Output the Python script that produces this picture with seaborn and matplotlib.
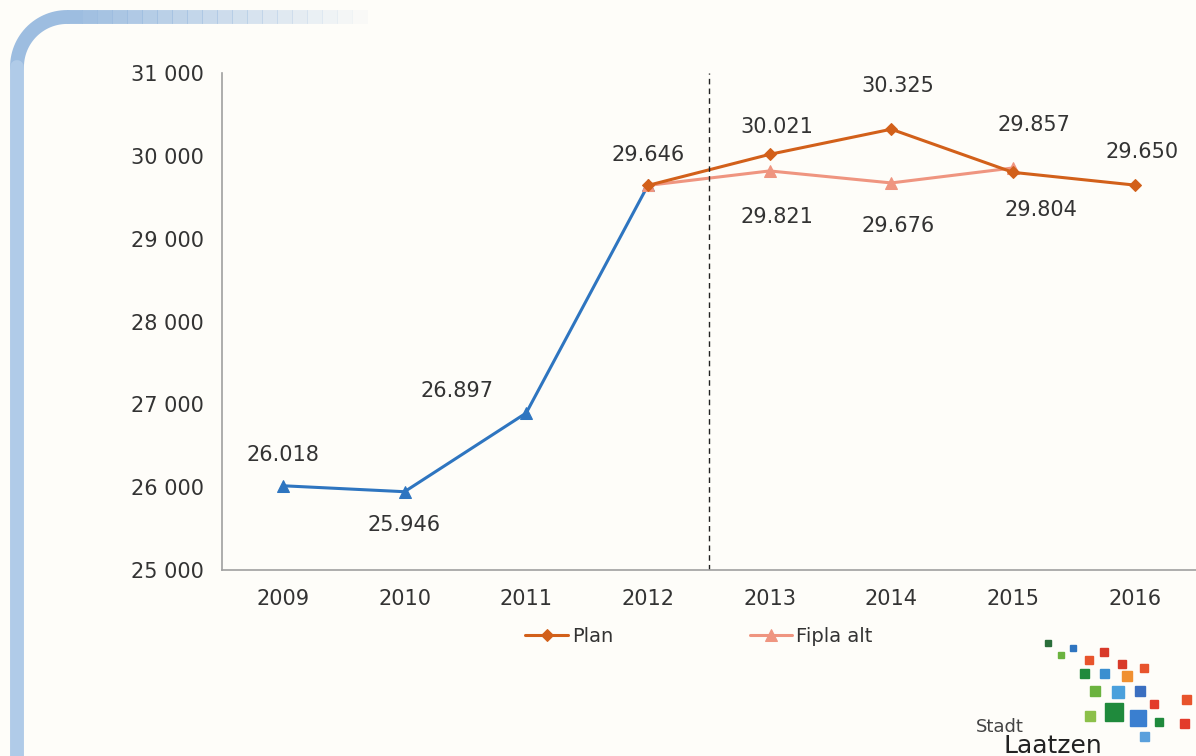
import numpy as np
import pandas as pd
import matplotlib.pyplot as plt
import seaborn as sns
from matplotlib.patches import Rectangle

years = [2009, 2010, 2011, 2012, 2013, 2014, 2015, 2016]
ist_years = [2009, 2010, 2011, 2012]
ist_vals = [26018, 25946, 26897, 29646]
plan_years = [2012, 2013, 2014, 2015, 2016]
plan_vals = [29646, 30021, 30325, 29804, 29650]
alt_years = [2012, 2013, 2014, 2015]
alt_vals = [29646, 29821, 29676, 29857]
y_ticks = [25000, 26000, 27000, 28000, 29000, 30000, 31000]

sns.set_style("white")
plt.rcParams['font.family'] = ['DejaVu Sans']

bg = '#fefdf9'
txt = '#333333'
c_ist = '#2e75c0'
c_plan = '#d2601a'
c_alt = '#ef9580'

fig = plt.figure(figsize=(11.96, 7.56), dpi=100, facecolor=bg)
ax = fig.add_axes([0.1856, 0.246, 0.814, 0.657])
ax.set_facecolor(bg)

pos = {y: i for i, y in enumerate(years)}
ist = pd.DataFrame({'x': [pos[y] for y in ist_years], 'v': ist_vals})
plan = pd.DataFrame({'x': [pos[y] for y in plan_years], 'v': plan_vals})
alt = pd.DataFrame({'x': [pos[y] for y in alt_years], 'v': alt_vals})

sns.lineplot(data=ist, x='x', y='v', ax=ax, color=c_ist, lw=2.2, marker='^',
             markersize=8, markeredgecolor=c_ist)
sns.lineplot(data=alt, x='x', y='v', ax=ax, color=c_alt, lw=2.2, marker='^',
             markersize=9, markeredgecolor=c_alt, label='Fipla alt')
sns.lineplot(data=plan, x='x', y='v', ax=ax, color=c_plan, lw=2.2, marker='D',
             markersize=6.5, markeredgecolor=c_plan, label='Plan')

ax.axvline(3.5, color='#222222', lw=1, ls=(0, (4, 3)))

def fmt(v):
    return f"{v:,}".replace(',', '.')

def put(df, offsets):
    for x, v, o in zip(df['x'], df['v'], offsets):
        if o is None:
            continue
        ax.annotate(fmt(v), (x, v), xytext=o, textcoords='offset points',
                    ha='center', va='center', fontsize=15, color=txt)

# label offsets in points (dx, dy)
put(ist, [(0, 22), (0, -24), (-50, 16), (0, 22)])
put(plan, [None, (5, 20), (5, 31), (20, -27), (5, 24)])
put(alt, [None, (5, -33), (5, -31), (15, 31)])

ax.set_xlim(-0.5, 7.5)
ax.set_ylim(25000, 31000)
ax.set_xticks(range(len(years)))
ax.set_xticklabels([str(y) for y in years], fontsize=15, color=txt)
ax.set_xticks(np.arange(-0.5, 8, 1), minor=True)
ax.tick_params(axis='x', which='major', length=0, pad=14)
ax.tick_params(axis='x', which='minor', length=6, color='#a0a0a0', direction='out')
ax.set_yticks(y_ticks)
ax.set_yticklabels([f"{t:,}".replace(',', ' ') for t in y_ticks], fontsize=15, color=txt)
ax.tick_params(axis='y', length=5, color='#a0a0a0', direction='out', pad=8)
ax.set_xlabel('')
ax.set_ylabel('')
for s in ['top', 'right']:
    ax.spines[s].set_visible(False)
for s in ['left', 'bottom']:
    ax.spines[s].set_color('#a0a0a0')
    ax.spines[s].set_linewidth(1.2)

h, l = ax.get_legend_handles_labels()
order = [l.index('Plan'), l.index('Fipla alt')]
ax.legend([h[i] for i in order], [l[i] for i in order], loc='upper center',
          bbox_to_anchor=(0.49, -0.08), ncol=2, frameon=False, fontsize=14,
          columnspacing=7, handlelength=2.2, handletextpad=0.2, labelcolor=txt)

# decorative frame in the top left corner
t = np.linspace(np.pi, np.pi / 2, 30)
r = 50
cx, cy = 17 + r, 756 - 17 - r
fig.add_artist(plt.Line2D((cx + r * np.cos(t)) / 1196, (cy + r * np.sin(t)) / 756,
                          color='#9dbde0', lw=10, transform=fig.transFigure))
fig.add_artist(plt.Line2D([17 / 1196, 17 / 1196], [0, cy / 756],
                          color='#b0cbe8', lw=10, transform=fig.transFigure))
for k in range(20):
    x0 = cx + k * 15
    fig.add_artist(plt.Line2D([x0 / 1196, (x0 + 16) / 1196], [739 / 756, 739 / 756],
                              color='#9dbde0', lw=10, alpha=max(0.0, 1 - k / 20),
                              transform=fig.transFigure, solid_capstyle='butt'))

# logo
fig.text(976 / 1196, 24 / 756, 'Stadt', fontsize=13, color='#444444')
fig.text(1003 / 1196, 3 / 756, 'Laatzen', fontsize=18, color='#222222')
sq = [(1045, 110, '#2a6e3a', 6), (1058, 98, '#6bb33f', 6), (1070, 105, '#2f75c0', 6),
      (1085, 92, '#e8542c', 8), (1100, 100, '#d83a2a', 8), (1118, 88, '#d83a2a', 8),
      (1080, 78, '#1f8a3c', 9), (1100, 78, '#3a8fd0', 9), (1122, 75, '#f09030', 10),
      (1140, 84, '#e8542c', 8), (1090, 60, '#6bb33f', 10), (1112, 58, '#4aa0dc', 12),
      (1135, 60, '#3a6fc0', 10), (1150, 48, '#e33a2a', 8), (1105, 35, '#1f8a3c', 18),
      (1130, 30, '#3a7fd0', 16), (1085, 35, '#8cc04a', 10), (1155, 30, '#1f8a3c', 8),
      (1180, 28, '#e33a2a', 9), (1182, 52, '#e8542c', 9), (1140, 15, '#5aa0dc', 9)]
for x0, y0, c, s in sq:
    fig.add_artist(Rectangle((x0 / 1196, y0 / 756), s / 1196, s / 756, color=c,
                             transform=fig.transFigure))

fig.savefig('out.png', dpi=100, facecolor=bg)
